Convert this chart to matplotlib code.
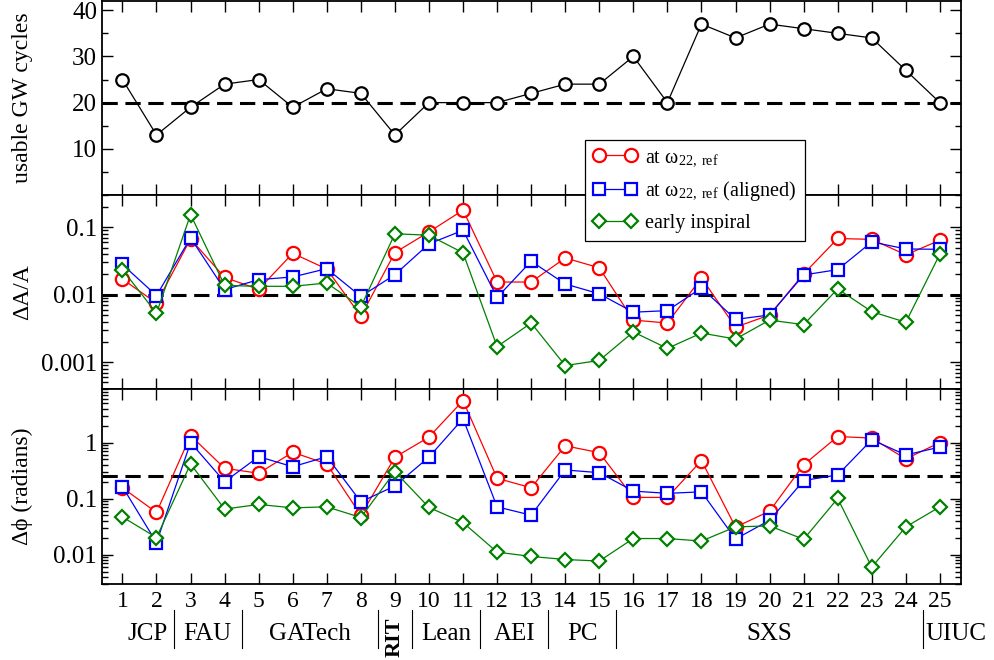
"""Usable GW cycles and amplitude / phase errors per waveform contribution."""

import numpy as np
import matplotlib

matplotlib.use("Agg")
import matplotlib.pyplot as plt
from matplotlib.lines import Line2D
from matplotlib.ticker import FixedLocator, FixedFormatter, LogLocator, NullFormatter
import matplotlib.transforms as mtransforms

plt.rcParams["font.family"] = ["Liberation Serif", "DejaVu Serif"]
plt.rcParams["mathtext.fontset"] = "stix"

# --- data ------------------------------------------------------------------
run_ids = list(range(1, 26))

gw_cycles = [25, 13, 19, 24, 25, 19, 23, 22, 13, 20, 20, 20, 22, 24, 24,
             30, 20, 37, 34, 37, 36, 35, 34, 27, 20]

dA_ref = [0.017, 0.0075, 0.067, 0.018, 0.012, 0.041, 0.024, 0.0048, 0.042,
          0.085, 0.179, 0.0154, 0.0154, 0.035, 0.025, 0.0042, 0.0038, 0.0177,
          0.0033, 0.0050, 0.0203, 0.068, 0.066, 0.039, 0.064]
dA_aligned = [0.028, 0.0097, 0.0695, 0.0119, 0.0167, 0.0183, 0.0243, 0.0094,
              0.0198, 0.0566, 0.090, 0.0091, 0.0313, 0.0144, 0.0103, 0.0055,
              0.0058, 0.0126, 0.0043, 0.0050, 0.0196, 0.0235, 0.0605, 0.0476,
              0.047]
dA_early = [0.0235, 0.0053, 0.154, 0.0137, 0.0133, 0.0133, 0.0149, 0.0066,
            0.080, 0.076, 0.0417, 0.0017, 0.0038, 0.00089, 0.00106, 0.0028,
            0.0016, 0.0027, 0.0022, 0.0042, 0.0036, 0.0122, 0.0056, 0.0039,
            0.040]

dphi_ref = [0.156, 0.0566, 1.33, 0.347, 0.283, 0.67, 0.415, 0.0506, 0.547,
            1.25, 5.59, 0.23, 0.156, 0.873, 0.66, 0.105, 0.105, 0.476, 0.031,
            0.0597, 0.40, 1.28, 1.20, 0.51, 1.0]
dphi_aligned = [0.163, 0.0164, 1.0, 0.20, 0.56, 0.37, 0.56, 0.0877, 0.168,
                0.55, 2.66, 0.0713, 0.0506, 0.324, 0.29, 0.136, 0.124, 0.132,
                0.019, 0.041, 0.21, 0.264, 1.12, 0.60, 0.83]
dphi_early = [0.047, 0.0202, 0.415, 0.065, 0.0787, 0.0684, 0.0713, 0.046,
              0.303, 0.0695, 0.0374, 0.0111, 0.0093, 0.0082, 0.0077, 0.0194,
              0.0194, 0.0175, 0.0313, 0.0326, 0.0188, 0.1007, 0.006, 0.0313,
              0.0713]

cycles_threshold = 20
dA_threshold = 0.01
dphi_threshold = 0.25

# group name, label x position, separator after group
groups = ["JCP", "FAU", "GATech", "RIT", "Lean", "AEI", "PC", "SXS", "UIUC"]
group_centers = [1.75, 3.5, 6.5, 9.0, 10.5, 12.5, 14.5, 20.0, 24.58]
group_edges = [2.5, 4.5, 8.5, 9.5, 11.5, 13.5, 15.5, 24.5]

# --- figure ---------------------------------------------------------------
W, H = 995, 660
fig = plt.figure(figsize=(W / 100, H / 100), dpi=100)

left, right = 102 / W, 961 / W
bounds = [(1, 195), (195, 389), (389, 584)]
axes = []
for top_px, bot_px in bounds:
    ax = fig.add_axes([left, 1 - bot_px / H, right - left, (bot_px - top_px) / H])
    axes.append(ax)
ax_c, ax_a, ax_p = axes

x = np.array(run_ids)
dash_kw = dict(color="black", lw=2.2, dashes=(5, 2.5), zorder=1)
line_kw = dict(lw=0.9, mew=1.6, mfc="white")

# top: usable cycles
ax_c.axhline(cycles_threshold, **dash_kw)
ax_c.plot(x, gw_cycles, "-o", color="black", ms=9, **line_kw)
ax_c.set_ylim(0, 42)
ax_c.yaxis.set_major_locator(FixedLocator([10, 20, 30, 40]))
ax_c.yaxis.set_minor_locator(FixedLocator([5, 15, 25, 35]))
ax_c.set_ylabel("usable GW cycles", fontsize=17)

series = [
    ("red", "o", 9.5, r"at ω$_{\mathregular{22,\ ref}}$"),
    ("blue", "s", 8.5, r"at ω$_{\mathregular{22,\ ref}}$ (aligned)"),
    ("green", "D", 7.5, "early inspiral"),
]

# middle: amplitude error
ax_a.axhline(dA_threshold, **dash_kw)
for (col, mk, ms, _), vals in zip(series, [dA_ref, dA_aligned, dA_early]):
    ax_a.plot(x, vals, "-", marker=mk, color=col, ms=ms, **line_kw)
ax_a.set_yscale("log")
ax_a.set_ylim(4e-4, 0.3)
ax_a.yaxis.set_major_locator(FixedLocator([0.001, 0.01, 0.1]))
ax_a.yaxis.set_major_formatter(FixedFormatter(["0.001", "0.01", "0.1"]))
ax_a.set_ylabel("ΔA/A", fontsize=17)

# bottom: phase error
ax_p.axhline(dphi_threshold, **dash_kw)
for (col, mk, ms, _), vals in zip(series, [dphi_ref, dphi_aligned, dphi_early]):
    ax_p.plot(x, vals, "-", marker=mk, color=col, ms=ms, **line_kw)
ax_p.set_yscale("log")
ax_p.set_ylim(0.003, 9)
ax_p.yaxis.set_major_locator(FixedLocator([0.01, 0.1, 1]))
ax_p.yaxis.set_major_formatter(FixedFormatter(["0.01", "0.1", "1"]))
ax_p.set_ylabel("Δϕ (radians)", fontsize=17)

for ax in (ax_a, ax_p):
    ax.yaxis.set_minor_locator(LogLocator(base=10, subs=np.arange(2, 10), numticks=20))
    ax.yaxis.set_minor_formatter(NullFormatter())

for ax in axes:
    ax.set_xlim(0.4, 25.62)
    ax.set_xticks(run_ids)
    ax.tick_params(which="both", direction="in", top=True, right=True,
                   width=1.0, labelsize=18)
    ax.tick_params(which="major", length=8)
    ax.tick_params(which="minor", length=4)
    ax.yaxis.set_label_coords(-0.08, 0.5)
    for s in ax.spines.values():
        s.set_linewidth(1.3)
    if ax is not ax_p:
        ax.tick_params(labelbottom=False)
ax_p.tick_params(axis="x", labelsize=17, pad=5)

# group labels under the x axis
trans = mtransforms.blended_transform_factory(ax_p.transData, ax_p.transAxes)
for name, cx in zip(groups, group_centers):
    if name == "RIT":
        ax_p.text(cx, -0.275, name, transform=trans, rotation=90, ha="center",
                  va="center", fontsize=16, fontweight="bold")
    elif name == "UIUC":
        ax_p.text(cx, -0.255, name, transform=trans, ha="left", va="center",
                  fontsize=18)
    else:
        ax_p.text(cx, -0.255, name, transform=trans, ha="center", va="center",
                  fontsize=18)
for ex in group_edges:
    ax_p.add_line(Line2D([ex, ex], [-0.135, -0.33], transform=trans, color="black",
                         lw=0.8, clip_on=False))

# legend straddling the top two panels
handles = [Line2D([], [], color=col, marker=mk, ms=ms, **line_kw)
           for col, mk, ms, _ in series]
labels = [lab for *_, lab in series]
leg = fig.legend(handles, labels, loc="upper left",
                 bbox_to_anchor=(585 / W, 1 - 140 / H), fontsize=14.5,
                 numpoints=2, handlelength=2.2, handletextpad=0.4,
                 borderpad=0.4, labelspacing=0.55, borderaxespad=0,
                 fancybox=False, framealpha=1, edgecolor="black")
leg.get_frame().set_linewidth(0.9)
leg.set_zorder(10)

fig.savefig("out.png", dpi=100)
